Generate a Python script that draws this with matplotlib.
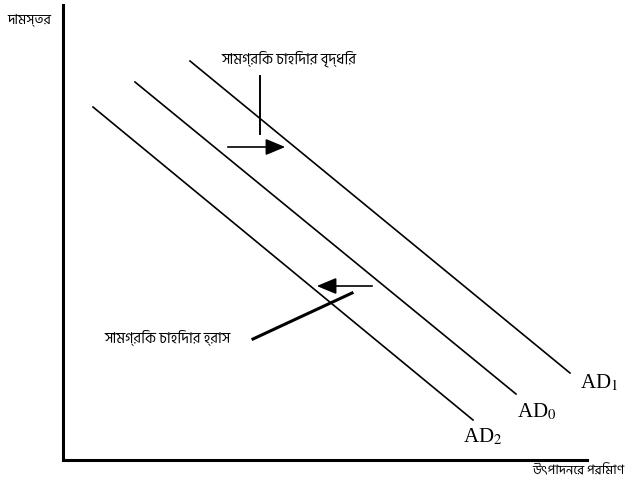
import matplotlib
matplotlib.use("Agg")
import matplotlib.pyplot as plt
from matplotlib.patches import FancyArrowPatch

plt.rcParams['mathtext.fontset'] = 'stix'

W, H = 626, 491
bn = ['Hind Siliguri', 'Noto Sans Bengali', 'FreeSerif', 'DejaVu Sans']

# demand curves (pixel coords of the reference, y down)
ad_names = ['AD$_1$', 'AD$_0$', 'AD$_2$']
ad_x = [[190, 570], [135, 516], [93, 473]]
ad_y = [[61, 373], [82, 394], [107, 420]]
ad_label_xy = [(580, 383), (517, 412), (463, 437)]

# axes
axis_x = [63, 63, 587]
axis_y = [5, 460, 460]

# annotation texts
y_label = 'দামস্তর'
x_label = 'উৎপাদনের পরিমাণ'
rise_text = 'সামগ্রিক চাহিদার বৃদ্ধির'
fall_text = 'সামগ্রিক চাহিদার হ্রাস'

fig = plt.figure(figsize=(W / 100, H / 100), dpi=100)
ax = fig.add_axes([0, 0, 1, 1])
ax.set_xlim(0, W)
ax.set_ylim(H, 0)
ax.axis('off')

ax.plot(axis_x, axis_y, color='black', lw=2.2, solid_joinstyle='miter')

for name, xs, ys, (lx, ly) in zip(ad_names, ad_x, ad_y, ad_label_xy):
    ax.plot(xs, ys, color='black', lw=1.2)
    ax.text(lx, ly, name, fontsize=15, family='Liberation Serif',
            ha='left', va='center')

# rise: pointer line and arrow to the right
ax.plot([260, 260], [76, 134], color='black', lw=1.4)
ax.add_patch(FancyArrowPatch((225, 147), (288, 147),
                             arrowstyle='-|>,head_length=0.6,head_width=0.25',
                             mutation_scale=20, color='black', lw=1.2))
ax.text(289, 59, rise_text, fontsize=10.5, family=bn, ha='center', va='center')

# fall: pointer line and arrow to the left
ax.plot([253, 352], [339, 293], color='black', lw=2.2)
ax.add_patch(FancyArrowPatch((375, 286), (314, 286),
                             arrowstyle='-|>,head_length=0.6,head_width=0.25',
                             mutation_scale=20, color='black', lw=1.2))
ax.text(167, 337, fall_text, fontsize=10.5, family=bn, ha='center', va='center')

ax.text(29, 20, y_label, fontsize=10, family=bn, ha='center', va='center')
ax.text(624, 471, x_label, fontsize=9.5, family=bn, ha='right', va='center')

fig.savefig('out.png', dpi=100)
